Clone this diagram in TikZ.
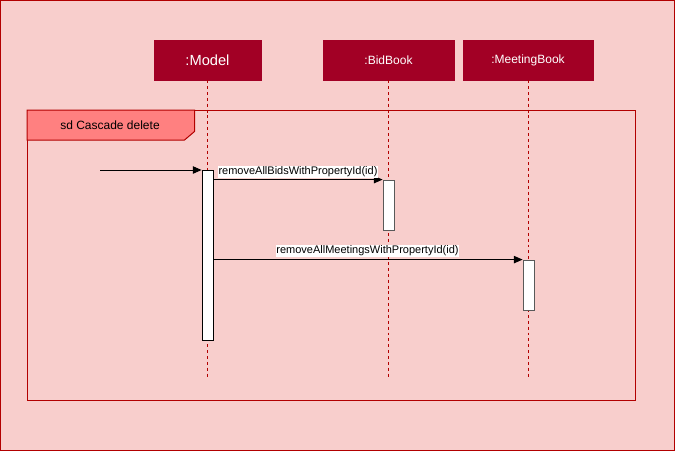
\documentclass[tikz,border=0pt]{standalone}
\usepackage{fontspec}
\setmainfont{Liberation Sans}
\usetikzlibrary{arrows.meta}
\definecolor{bgpink}{HTML}{F8CECC}
\definecolor{darkred}{HTML}{B20000}
\definecolor{headred}{HTML}{A20025}
\definecolor{sdfill}{HTML}{FF8080}
\tikzset{
  head/.style={draw=headred, fill=headred, text=white, minimum height=30pt, inner sep=0pt, font=\fontsize{9}{10}\selectfont},
  act/.style={draw=black!65, fill=white, minimum width=8.25pt, inner sep=0pt, line width=0.6pt},
  life/.style={draw=darkred, dash pattern=on 2.2pt off 2.2pt, line width=0.6pt},
  msg/.style={draw=black, line width=0.7pt, -{Triangle[length=6.5pt,width=5.5pt]}},
  msglabel/.style={fill=white, inner sep=0.4pt, font=\fontsize{8.25}{9}\selectfont},
}
\begin{document}
\begin{tikzpicture}[x=0.75pt, y=-0.75pt]
\useasboundingbox (0,0) rectangle (675,451);
\fill[bgpink] (0,0) rectangle (675,451);
\draw[darkred, line width=1pt] (0.5,0.5) rectangle (674.5,450.5);

% lifeline heads
\node[head, minimum width=80.25pt, font=\fontsize{11}{12}\selectfont] (model) at (207.5,60) {:Model};
\node[head, minimum width=98.25pt] (bid) at (388.5,60) {:BidBook};
\node[head, minimum width=97.5pt] (meet) at (528,60) {:MeetingBook};

% frame
\draw[darkred, line width=0.75pt] (27,110) rectangle (635,400);
\draw[darkred, fill=sdfill, line width=0.75pt] (27,110) -- (194.5,110) -- (194.5,131.5) -- (184.5,140) -- (27,140) -- cycle;
\node[font=\fontsize{9}{10}\selectfont, inner sep=0pt] (sd) at (110,125) {sd Cascade delete};

% lifelines
\coordinate (mend) at (207.5,378);
\coordinate (bend) at (388.5,378);
\coordinate (gend) at (528,378);
\draw[life] (model.south) -- (mend);
\draw[life] (bid.south) -- (bend);
\draw[life] (meet.south) -- (gend);

% activations
\node[act, draw=black, minimum height=127.5pt] (mact) at (207.5,255) {};
\node[act, minimum height=37.5pt] (bact) at (388.5,205) {};
\node[act, minimum height=37.5pt] (gact) at (528.5,285) {};

% messages
\coordinate (in) at (100,170);
\draw[msg] (in) -- (mact.west |- in);
\draw[msg] (mact.east |- bact.north) -- (bact.north west);
\draw[msg] (mact.east |- gact.north) -- (gact.north west);

\node[msglabel] (l1) at (298,172) {removeAllBidsWithPropertyId(id)};
\node[msglabel] (l2) at (367.5,251) {removeAllMeetingsWithPropertyId(id)};
\end{tikzpicture}
\end{document}
